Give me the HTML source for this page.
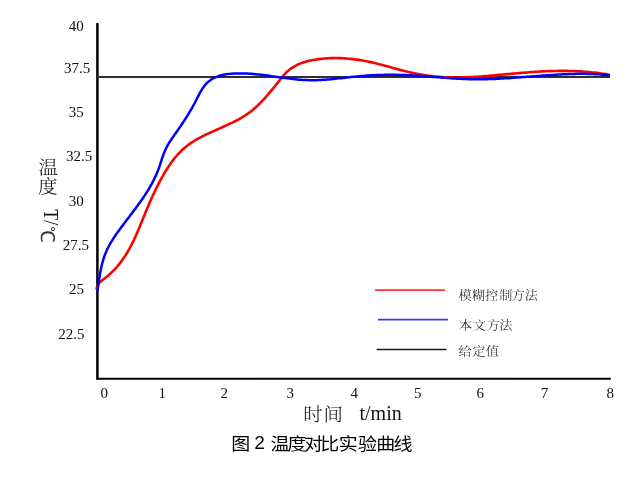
<!DOCTYPE html>
<html><head><meta charset="utf-8"><style>
html,body{margin:0;padding:0;background:#fff;}
body{width:638px;height:482px;overflow:hidden;position:relative;}
svg{position:absolute;left:0;top:0;will-change:transform;}
.tk{font-family:"Liberation Serif", "Noto Serif CJK SC", serif;font-size:15px;fill:#111;}
.ax{font-family:"Liberation Serif", "Noto Serif CJK SC", serif;font-size:20px;fill:#111;}
.lg{font-family:"Liberation Serif", "Noto Serif CJK SC", serif;fill:#222;font-weight:300;}
.cj{font-family:"Liberation Serif", "Noto Serif CJK SC", serif;fill:#111;font-weight:300;}
.dc{font-family:"Liberation Serif", "WenQuanYi Zen Hei", sans-serif;fill:#333;}
.cap{font-family:"Liberation Sans", "Noto Sans CJK SC", sans-serif;fill:#000;font-weight:400;}
</style></head><body>
<svg width="638" height="482" viewBox="0 0 638 482">
<path d="M97.4 24 L97.4 378.7" fill="none" stroke="#000" stroke-width="2.5" stroke-linecap="round"/>
<path d="M97.4 378.7 L610 378.7" fill="none" stroke="#000" stroke-width="2.1" stroke-linecap="round"/>
<line x1="97" y1="77" x2="610" y2="77" stroke="#303030" stroke-width="1.8"/>
<path d="M96.64 288.64 L97.15 286.71 L98.00 284.89 L99.13 283.24 L100.48 281.76 L101.97 280.42 L103.53 279.17 L105.12 277.95 L106.70 276.71 L108.24 275.43 L109.75 274.12 L111.23 272.76 L112.67 271.37 L114.08 269.95 L115.46 268.49 L116.79 267.00 L118.10 265.47 L119.37 263.92 L120.60 262.35 L121.80 260.74 L122.97 259.11 L124.10 257.46 L125.20 255.78 L126.27 254.09 L127.31 252.37 L128.32 250.64 L129.30 248.90 L130.26 247.14 L131.19 245.36 L132.10 243.58 L132.99 241.78 L133.86 239.98 L134.71 238.16 L135.55 236.34 L136.37 234.51 L137.17 232.68 L137.97 230.84 L138.75 228.99 L139.52 227.14 L140.29 225.29 L141.05 223.44 L141.81 221.58 L142.56 219.72 L143.32 217.87 L144.07 216.01 L144.83 214.15 L145.59 212.30 L146.35 210.45 L147.12 208.60 L147.90 206.75 L148.69 204.91 L149.48 203.07 L150.28 201.23 L151.10 199.40 L151.92 197.57 L152.75 195.75 L153.60 193.93 L154.45 192.12 L155.32 190.32 L156.20 188.51 L157.09 186.72 L158.00 184.93 L158.92 183.15 L159.85 181.38 L160.80 179.61 L161.76 177.85 L162.74 176.10 L163.73 174.36 L164.74 172.63 L165.78 170.92 L166.83 169.21 L167.91 167.53 L169.02 165.85 L170.15 164.20 L171.30 162.56 L172.49 160.95 L173.71 159.36 L174.96 157.79 L176.24 156.25 L177.56 154.74 L178.92 153.27 L180.31 151.83 L181.74 150.42 L183.21 149.06 L184.72 147.75 L186.27 146.48 L187.86 145.25 L189.48 144.07 L191.13 142.93 L192.80 141.83 L194.50 140.77 L196.22 139.74 L197.96 138.75 L199.72 137.78 L201.49 136.84 L203.27 135.93 L205.07 135.04 L206.87 134.17 L208.69 133.31 L210.51 132.47 L212.33 131.65 L214.16 130.83 L215.99 130.01 L217.82 129.20 L219.66 128.40 L221.49 127.59 L223.32 126.77 L225.15 125.95 L226.97 125.12 L228.79 124.28 L230.61 123.43 L232.41 122.56 L234.21 121.66 L235.99 120.75 L237.76 119.81 L239.52 118.85 L241.26 117.86 L242.98 116.83 L244.68 115.77 L246.36 114.68 L248.01 113.54 L249.63 112.37 L251.23 111.15 L252.79 109.89 L254.32 108.60 L255.82 107.27 L257.29 105.91 L258.74 104.53 L260.16 103.12 L261.56 101.68 L262.94 100.22 L264.29 98.75 L265.63 97.26 L266.95 95.75 L268.26 94.23 L269.56 92.70 L270.84 91.16 L272.12 89.62 L273.39 88.07 L274.65 86.51 L275.91 84.95 L277.16 83.39 L278.42 81.83 L279.66 80.26 L280.91 78.69 L282.15 77.12 L283.42 75.57 L284.73 74.05 L286.10 72.59 L287.55 71.21 L289.08 69.91 L290.67 68.69 L292.33 67.57 L294.04 66.53 L295.80 65.57 L297.60 64.69 L299.44 63.88 L301.30 63.15 L303.19 62.49 L305.11 61.89 L307.03 61.34 L308.98 60.86 L310.93 60.42 L312.90 60.03 L314.87 59.68 L316.85 59.38 L318.84 59.11 L320.83 58.87 L322.82 58.67 L324.82 58.49 L326.82 58.35 L328.82 58.23 L330.82 58.15 L332.82 58.09 L334.83 58.07 L336.83 58.07 L338.84 58.11 L340.84 58.17 L342.84 58.26 L344.84 58.37 L346.84 58.52 L348.84 58.68 L350.83 58.88 L352.82 59.10 L354.81 59.34 L356.80 59.61 L358.78 59.90 L360.76 60.22 L362.74 60.55 L364.71 60.91 L366.68 61.29 L368.64 61.69 L370.60 62.11 L372.55 62.55 L374.50 63.01 L376.45 63.49 L378.40 63.98 L380.34 64.48 L382.27 64.99 L384.21 65.51 L386.14 66.04 L388.07 66.57 L390.01 67.10 L391.94 67.64 L393.87 68.17 L395.80 68.70 L397.73 69.23 L399.67 69.75 L401.61 70.26 L403.55 70.76 L405.49 71.25 L407.44 71.72 L409.39 72.18 L411.34 72.62 L413.30 73.04 L415.27 73.45 L417.23 73.84 L419.20 74.21 L421.18 74.56 L423.15 74.89 L425.13 75.20 L427.11 75.49 L429.10 75.77 L431.09 76.02 L433.08 76.25 L435.07 76.46 L437.07 76.65 L439.06 76.82 L441.06 76.97 L443.06 77.10 L445.06 77.20 L447.06 77.29 L449.07 77.36 L451.07 77.41 L453.07 77.44 L455.08 77.46 L457.08 77.46 L459.09 77.44 L461.09 77.41 L463.09 77.36 L465.10 77.30 L467.10 77.23 L469.10 77.15 L471.10 77.05 L473.10 76.95 L475.10 76.83 L477.10 76.71 L479.10 76.57 L481.10 76.43 L483.10 76.28 L485.10 76.12 L487.10 75.96 L489.09 75.79 L491.09 75.62 L493.09 75.45 L495.08 75.27 L497.08 75.08 L499.07 74.90 L501.07 74.71 L503.06 74.53 L505.06 74.34 L507.06 74.15 L509.05 73.97 L511.05 73.78 L513.04 73.60 L515.04 73.42 L517.03 73.25 L519.03 73.08 L521.03 72.91 L523.03 72.75 L525.02 72.59 L527.02 72.43 L529.02 72.28 L531.02 72.14 L533.02 72.00 L535.02 71.87 L537.02 71.74 L539.02 71.63 L541.02 71.52 L543.02 71.41 L545.02 71.32 L547.02 71.23 L549.03 71.15 L551.03 71.09 L553.03 71.03 L555.04 70.98 L557.04 70.94 L559.04 70.91 L561.05 70.90 L563.05 70.89 L565.06 70.90 L567.06 70.92 L569.06 70.95 L571.07 70.99 L573.07 71.05 L575.07 71.12 L577.07 71.20 L579.08 71.30 L581.08 71.42 L583.08 71.54 L585.08 71.69 L587.07 71.85 L589.07 72.02 L591.06 72.21 L593.06 72.42 L595.05 72.65 L597.04 72.89 L599.03 73.15 L601.01 73.42 L602.99 73.72 L604.97 74.03 L606.95 74.36 L608.92 74.72" fill="none" stroke="#f00" stroke-width="2.6" stroke-linecap="round" stroke-linejoin="round"/>
<path d="M97.52 290.60 L97.80 288.62 L98.08 286.64 L98.36 284.65 L98.63 282.67 L98.92 280.69 L99.22 278.71 L99.53 276.73 L99.85 274.76 L100.19 272.78 L100.56 270.82 L100.95 268.85 L101.37 266.90 L101.83 264.95 L102.32 263.01 L102.85 261.08 L103.42 259.16 L104.04 257.25 L104.70 255.36 L105.42 253.50 L106.19 251.65 L107.02 249.83 L107.89 248.02 L108.81 246.24 L109.76 244.48 L110.75 242.75 L111.78 241.03 L112.84 239.33 L113.92 237.65 L115.03 235.98 L116.16 234.33 L117.31 232.69 L118.47 231.06 L119.65 229.44 L120.84 227.83 L122.04 226.23 L123.24 224.63 L124.45 223.03 L125.66 221.43 L126.87 219.84 L128.09 218.25 L129.30 216.66 L130.52 215.07 L131.73 213.47 L132.94 211.88 L134.14 210.28 L135.34 208.68 L136.53 207.07 L137.72 205.46 L138.90 203.84 L140.06 202.21 L141.22 200.57 L142.36 198.93 L143.49 197.28 L144.60 195.61 L145.70 193.94 L146.77 192.25 L147.83 190.55 L148.87 188.84 L149.89 187.12 L150.88 185.38 L151.85 183.63 L152.79 181.86 L153.70 180.08 L154.59 178.28 L155.44 176.47 L156.26 174.64 L157.05 172.80 L157.80 170.95 L158.51 169.08 L159.19 167.20 L159.84 165.30 L160.46 163.40 L161.08 161.49 L161.69 159.59 L162.32 157.69 L162.98 155.80 L163.66 153.92 L164.40 152.05 L165.19 150.21 L166.04 148.40 L166.96 146.63 L167.93 144.87 L168.95 143.15 L170.01 141.45 L171.10 139.77 L172.21 138.11 L173.35 136.46 L174.49 134.82 L175.65 133.18 L176.80 131.55 L177.95 129.91 L179.09 128.27 L180.23 126.62 L181.36 124.96 L182.48 123.30 L183.59 121.64 L184.68 119.96 L185.77 118.28 L186.84 116.59 L187.90 114.90 L188.95 113.19 L189.98 111.47 L190.99 109.74 L191.98 108.01 L192.96 106.26 L193.91 104.50 L194.85 102.73 L195.76 100.95 L196.66 99.16 L197.56 97.37 L198.47 95.59 L199.39 93.81 L200.35 92.05 L201.36 90.32 L202.42 88.63 L203.56 86.98 L204.77 85.39 L206.09 83.88 L207.50 82.46 L209.00 81.14 L210.60 79.94 L212.28 78.85 L214.04 77.89 L215.86 77.05 L217.72 76.33 L219.63 75.71 L221.56 75.19 L223.51 74.76 L225.48 74.40 L227.46 74.11 L229.45 73.88 L231.45 73.70 L233.45 73.57 L235.44 73.48 L237.45 73.43 L239.45 73.41 L241.45 73.41 L243.45 73.45 L245.45 73.52 L247.45 73.61 L249.45 73.72 L251.45 73.86 L253.44 74.02 L255.44 74.20 L257.43 74.39 L259.42 74.60 L261.41 74.83 L263.40 75.07 L265.38 75.32 L267.37 75.58 L269.35 75.85 L271.33 76.13 L273.32 76.41 L275.30 76.69 L277.28 76.97 L279.26 77.25 L281.24 77.53 L283.23 77.81 L285.21 78.08 L287.19 78.34 L289.18 78.59 L291.17 78.83 L293.16 79.06 L295.15 79.27 L297.14 79.46 L299.13 79.64 L301.13 79.80 L303.13 79.93 L305.13 80.04 L307.13 80.12 L309.13 80.18 L311.13 80.21 L313.13 80.21 L315.13 80.18 L317.13 80.13 L319.13 80.05 L321.13 79.95 L323.13 79.83 L325.13 79.70 L327.12 79.54 L329.12 79.38 L331.11 79.20 L333.11 79.00 L335.10 78.80 L337.09 78.59 L339.08 78.38 L341.07 78.16 L343.06 77.94 L345.05 77.71 L347.04 77.49 L349.02 77.26 L351.01 77.04 L353.00 76.83 L355.00 76.62 L356.99 76.42 L358.98 76.23 L360.97 76.05 L362.97 75.88 L364.97 75.73 L366.96 75.59 L368.96 75.46 L370.96 75.34 L372.96 75.23 L374.96 75.14 L376.96 75.06 L378.96 74.98 L380.96 74.93 L382.96 74.88 L384.96 74.84 L386.96 74.82 L388.96 74.80 L390.97 74.80 L392.97 74.81 L394.97 74.83 L396.97 74.86 L398.97 74.90 L400.97 74.95 L402.97 75.01 L404.98 75.08 L406.98 75.16 L408.98 75.25 L410.97 75.35 L412.97 75.46 L414.97 75.57 L416.97 75.70 L418.97 75.83 L420.96 75.97 L422.96 76.11 L424.96 76.26 L426.95 76.41 L428.95 76.57 L430.95 76.72 L432.94 76.88 L434.94 77.04 L436.93 77.20 L438.93 77.36 L440.92 77.52 L442.92 77.67 L444.92 77.82 L446.91 77.97 L448.91 78.12 L450.90 78.26 L452.90 78.39 L454.90 78.52 L456.90 78.64 L458.90 78.75 L460.90 78.85 L462.90 78.95 L464.90 79.03 L466.90 79.10 L468.90 79.16 L470.90 79.21 L472.90 79.24 L474.90 79.26 L476.90 79.27 L478.91 79.27 L480.91 79.26 L482.91 79.23 L484.91 79.20 L486.91 79.16 L488.91 79.10 L490.91 79.04 L492.91 78.97 L494.91 78.89 L496.91 78.80 L498.91 78.70 L500.91 78.60 L502.91 78.49 L504.91 78.37 L506.91 78.25 L508.91 78.13 L510.90 77.99 L512.90 77.86 L514.90 77.72 L516.90 77.57 L518.89 77.43 L520.89 77.28 L522.88 77.12 L524.88 76.97 L526.88 76.81 L528.87 76.66 L530.87 76.50 L532.86 76.34 L534.86 76.19 L536.85 76.03 L538.85 75.88 L540.85 75.72 L542.84 75.57 L544.84 75.43 L546.84 75.28 L548.83 75.14 L550.83 75.01 L552.83 74.88 L554.83 74.75 L556.82 74.63 L558.82 74.52 L560.82 74.42 L562.82 74.32 L564.82 74.23 L566.82 74.14 L568.82 74.07 L570.82 74.01 L572.82 73.95 L574.82 73.91 L576.83 73.87 L578.83 73.85 L580.83 73.84 L582.83 73.84 L584.83 73.86 L586.83 73.88 L588.84 73.93 L590.84 73.98 L592.84 74.05 L594.84 74.14 L596.84 74.24 L598.84 74.35 L600.83 74.49 L602.83 74.64 L604.82 74.80 L606.82 74.99 L608.81 75.19" fill="none" stroke="#00f" stroke-width="2.5" stroke-linecap="round" stroke-linejoin="round"/>
<line x1="375" y1="290.1" x2="445" y2="290.1" stroke="#ff3434" stroke-width="1.8"/>
<line x1="378" y1="319.7" x2="448" y2="319.7" stroke="#3434ff" stroke-width="1.8"/>
<line x1="376.6" y1="349.5" x2="446.5" y2="349.5" stroke="#1a1a1a" stroke-width="1.7"/>
<text x="68.8" y="31.0" class="tk">40</text>
<text x="64.1" y="72.6" class="tk">37.5</text>
<text x="68.8" y="117.2" class="tk">35</text>
<text x="66.0" y="161.3" class="tk">32.5</text>
<text x="68.8" y="206.0" class="tk">30</text>
<text x="62.8" y="250.1" class="tk">27.5</text>
<text x="68.9" y="294.4" class="tk">25</text>
<text x="58.2" y="338.8" class="tk">22.5</text>
<text x="100.5" y="398.0" class="tk">0</text>
<text x="158.5" y="398.0" class="tk">1</text>
<text x="220.4" y="398.0" class="tk">2</text>
<text x="286.4" y="398.0" class="tk">3</text>
<text x="350.6" y="398.0" class="tk">4</text>
<text x="414.0" y="398.0" class="tk">5</text>
<text x="476.5" y="398.0" class="tk">6</text>
<text x="540.7" y="398.0" class="tk">7</text>
<text x="606.6" y="398.0" class="tk">8</text>
<text transform="scale(1.1000,1)" x="416.91 429.16 440.82 453.97 464.95 477.13" y="299.64" class="lg" style="font-size:12.00px;">模糊控制方法</text>
<text transform="scale(1.1000,1)" x="417.34 429.67 442.49 453.76" y="329.84" class="lg" style="font-size:12.00px;">本文方法</text>
<text transform="scale(1.1000,1)" x="416.88 429.34 441.55" y="355.84" class="lg" style="font-size:12.00px;">给定值</text>
<text transform="scale(1.0800,1)" x="280.88 299.60" y="420.76" class="cj" style="font-size:18.00px;">时间</text>
<text transform="scale(1.0870,1)" x="35.34" y="173.76" class="cj" style="font-size:18.00px;">温</text>
<text transform="scale(1.0870,1)" x="34.97" y="192.66" class="cj" style="font-size:18.00px;">度</text>
<text transform="scale(1.0800,1)" x="214.15" y="449.99" class="cap" style="font-size:17.60px;">图</text>
<text transform="scale(1.0800,1)" x="235.41" y="449.00" class="cap" style="font-size:17.60px;">2</text>
<text transform="scale(1.0800,1)" x="250.50 266.15 281.53 296.47 313.68 331.60 348.43 364.40" y="450.19" class="cap" style="font-size:17.60px;">温度对比实验曲线</text>
<text transform="translate(44,209.35) rotate(90) scale(0.840,1)" class="ax" style="font-size:21.1px">T/</text>
<text transform="translate(41.2,226.17) rotate(90) scale(0.950,1)" class="dc" style="font-size:18.9px">℃</text>
<text x="359.5" y="420.2" class="ax">t/min</text>
</svg>
</body></html>
